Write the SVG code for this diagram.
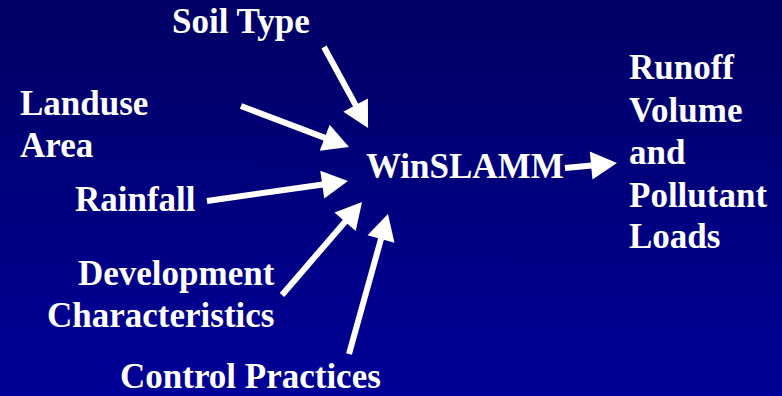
<svg xmlns="http://www.w3.org/2000/svg" width="782" height="396" viewBox="0 0 782 396">
  <defs>
    <linearGradient id="bg" x1="0" y1="0" x2="0" y2="1">
      <stop offset="0" stop-color="#000064"/>
      <stop offset="1" stop-color="#000098"/>
    </linearGradient>
    <marker id="head" markerUnits="userSpaceOnUse" markerWidth="30" markerHeight="30" viewBox="0 -15 28 30" refX="6" refY="0" orient="auto">
      <path d="M0,-14 L26,0 L0,14 z" fill="#ffffff"/>
    </marker>
    <style>
      text { font-family: "Liberation Serif", "Times New Roman", serif; font-weight: bold; font-size: 35px; fill: #ffffff; }
      .arrow { stroke: #ffffff; stroke-width: 6; fill: none; marker-end: url(#head); }
    </style>
  </defs>
  <rect x="0" y="0" width="782" height="396" fill="url(#bg)"/>

  <g id="connectors">
    <line class="arrow" x1="324" y1="47" x2="358.5" y2="110.4"/>
    <line class="arrow" x1="241" y1="106" x2="330.3" y2="139.9"/>
    <line class="arrow" x1="207" y1="201" x2="328.2" y2="183.8"/>
    <line class="arrow" x1="282" y1="295" x2="349" y2="217.2"/>
    <line class="arrow" x1="349" y1="354" x2="382.6" y2="233.3"/>
    <line class="arrow" x1="565" y1="168" x2="597.1" y2="164.9"/>
  </g>

  <g id="soil-type"><text x="172" y="33">Soil Type</text></g>
  <g id="landuse-area">
    <text x="20" y="115">Landuse</text>
    <text x="20" y="157">Area</text>
  </g>
  <g id="rainfall"><text x="75" y="211">Rainfall</text></g>
  <g id="development">
    <text x="78" y="285">Development</text>
    <text x="47" y="327">Characteristics</text>
  </g>
  <g id="control-practices"><text x="120" y="388">Control Practices</text></g>
  <g id="winslamm"><text x="366" y="178">WinSLAMM</text></g>
  <g id="output">
    <text x="629" y="79">Runoff</text>
    <text x="629" y="122">Volume</text>
    <text x="629" y="164">and</text>
    <text x="629" y="207">Pollutant</text>
    <text x="629" y="248">Loads</text>
  </g>
</svg>
